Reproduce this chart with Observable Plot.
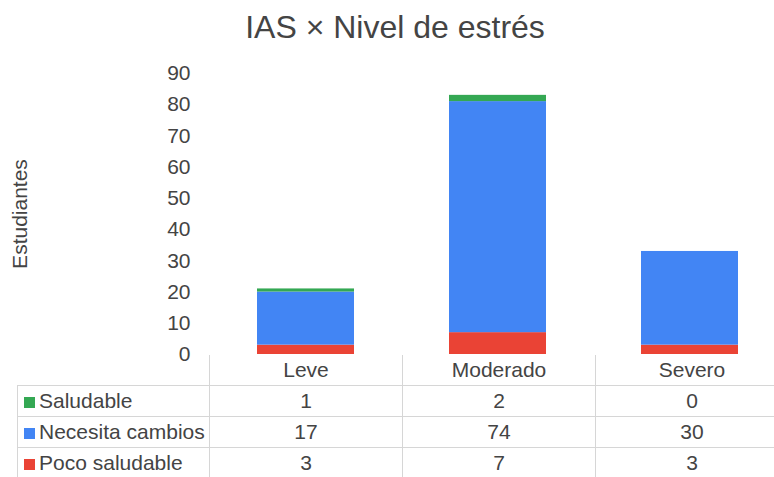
<!DOCTYPE html>
<html>
<head>
<meta charset="utf-8">
<script src="https://cdn.jsdelivr.net/npm/d3@7"></script>
<script src="https://cdn.jsdelivr.net/npm/@observablehq/plot@0.6"></script>
<style>
  html, body { margin: 0; padding: 0; background: #fff; }
  body { width: 774px; height: 477px; overflow: hidden; position: relative; font-family: "Liberation Sans", Arial, sans-serif; color: #444; }
  #title { position: absolute; left: 0; top: 9px; width: 790px; text-align: center; font-size: 32px; color: #444; }
  #chart { position: absolute; left: 0; top: 50px; }
  #table { position: absolute; left: 17px; top: 355px; border-collapse: collapse; table-layout: fixed; width: 771px; font-size: 21px; color: #444; }
  #table td { border: 1px solid #d6d6d6; height: 30px; padding: 0; text-align: center; overflow: hidden; white-space: nowrap; }
  #table td.lab { text-align: left; padding-left: 6px; }
  #table .sw { display: inline-block; width: 11px; height: 11px; margin-right: 4px; vertical-align: 0px; }
</style>
</head>
<body>
<div id="title">IAS × Nivel de estrés</div>
<div id="chart"></div>
<table id="table">
  <colgroup><col style="width:192px"><col style="width:193px"><col style="width:193px"><col style="width:193px"></colgroup>
</table>
<script>
const categories = ["Leve", "Moderado", "Severo"];
const series = ["Saludable", "Necesita cambios", "Poco saludable"];
const saludable = [1, 2, 0];
const necesitaCambios = [17, 74, 30];
const pocoSaludable = [3, 7, 3];
const colors = ["#34a853", "#4285f4", "#ea4335"];
const yTicks = [0, 10, 20, 30, 40, 50, 60, 70, 80, 90];
const yLabel = "Estudiantes";

const values = [saludable, necesitaCambios, pocoSaludable];
// stack order bottom to top: Poco saludable, Necesita cambios, Saludable
const stackOrder = ["Poco saludable", "Necesita cambios", "Saludable"];
const data = [];
for (const s of stackOrder) {
  const si = series.indexOf(s);
  categories.forEach((c, ci) => data.push({cat: c, series: s, value: values[si][ci]}));
}

const chart = Plot.plot({
  width: 774,
  height: 336,
  marginTop: 23,
  marginBottom: 32,
  marginLeft: 209,
  marginRight: 0,
  style: {fontFamily: "'Liberation Sans', Arial, sans-serif", fontSize: "20px", color: "#444", overflow: "hidden"},
  x: {domain: categories, range: [209, 787], padding: 0, label: null, axis: null},
  y: {domain: [0, 90], ticks: yTicks, label: null},
  color: {domain: series, range: colors},
  marks: [
    Plot.gridY(yTicks, {stroke: "#d6d6d6", strokeOpacity: 1, x1: 209, x2: 774}),
    Plot.axisY({ticks: yTicks, tickSize: 0, tickPadding: 19, fontSize: 21, label: null}),
    Plot.text([yLabel], {frameAnchor: "left", textAnchor: "middle", rotate: -90, dx: -189, fontSize: 21, fill: "#444", text: d => d}),
    Plot.barY(data, Plot.stackY({order: stackOrder, x: "cat", y: "value", fill: "series", insetLeft: 47, insetRight: 48}))
  ]
});
document.getElementById("chart").appendChild(chart);

// data table below the chart
const table = document.getElementById("table");
const header = document.createElement("tr");
const blank = document.createElement("td");
blank.style.cssText = "border-top:none; border-left:none; border-bottom:1px solid #d6d6d6;";
header.appendChild(blank);
categories.forEach(c => {
  const td = document.createElement("td");
  td.textContent = c;
  td.style.borderTop = "none";
  td.style.height = "29px";
  header.appendChild(td);
});
table.appendChild(header);
series.forEach((s, si) => {
  const tr = document.createElement("tr");
  const lab = document.createElement("td");
  lab.className = "lab";
  lab.innerHTML = `<span class="sw" style="background:${colors[si]}"></span>${s}`;
  tr.appendChild(lab);
  categories.forEach((c, ci) => {
    const td = document.createElement("td");
    td.textContent = values[si][ci];
    tr.appendChild(td);
  });
  table.appendChild(tr);
});
</script>
</body>
</html>
